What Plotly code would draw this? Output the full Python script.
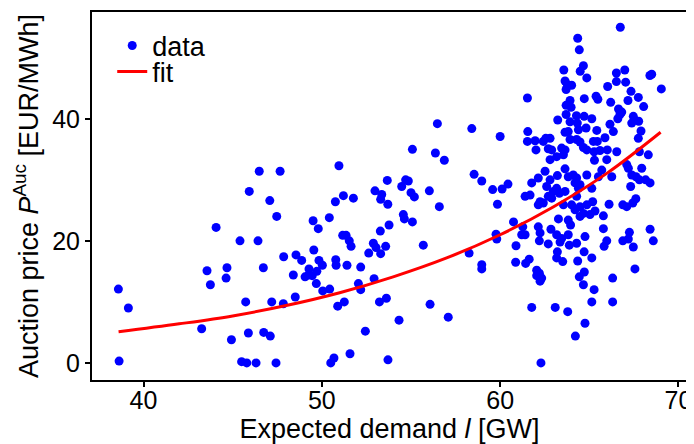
import plotly.graph_objects as go

demand = [
    38.59, 39.15, 38.63, 43.26, 44.93, 45.5, 45.79, 46.31, 47.43, 45.88, 46.74, 47.11, 45.73, 47.19, 47.84, 48.51,
    43.56, 43.75, 44.63, 44.68, 44.07, 45.41, 46.42, 46.72, 45.93, 46.49, 47.66, 47.08, 47.47, 47.86, 48.55, 48.4,
    56.48, 58.41, 50.96, 55.08, 56.37, 56.87, 58.54, 53.67, 52.98, 53.36, 53.3, 53.7, 50.76, 51.21, 51.77, 54.48,
    54.7, 54.85, 55.0, 55.19, 56.03, 56.59, 49.51, 49.8, 50.42, 54.57, 54.63, 55.08, 53.77, 53.28, 51.17, 51.36,
    51.54, 51.64, 52.89, 53.04, 53.58, 52.63, 53.3, 55.69, 49.55, 48.87, 50.78, 50.8, 51.41, 52.18, 49.84, 50.03,
    49.28, 49.06, 49.25, 49.46, 49.72, 49.69, 50.05, 50.44, 52.05, 52.18, 52.93, 50.89, 51.26, 53.23, 53.62, 52.44,
    54.33, 56.07, 57.09, 50.5, 50.68, 51.58, 53.71, 58.26,
    66.74, 64.35, 64.44, 63.57, 64.67, 64.49, 64.86, 63.64, 63.77, 64.01, 63.7, 66.52, 66.99, 66.52, 67.04, 68.4,
    68.5, 69.04, 66.03, 67.34, 61.53, 64.72, 65.38, 65.48, 63.92, 63.7, 63.98, 66.2, 67.17, 67.75, 68.05, 66.64,
    66.82, 66.72, 66.6, 63.7, 64.28, 64.71, 65.14, 63.23, 63.92, 64.33, 64.82, 67.47, 67.38, 67.77, 66.16, 65.42,
    66.35, 67.9, 61.55, 63.64, 63.82, 64.39,
    60.0, 61.53, 61.96, 62.56, 62.8, 62.42, 62.01, 62.7, 62.89, 63.45, 63.64, 63.92, 64.29, 64.48, 64.67, 64.86,
    65.23, 65.45, 65.88, 65.27, 65.6, 66.01, 66.54, 67.75, 67.81, 68.31, 62.8, 63.17, 63.55, 65.29, 65.98, 67.1,
    67.19, 67.94, 63.64, 58.97, 59.58, 60.11, 60.44, 59.85, 60.75, 61.4, 61.68, 61.77, 62.14, 62.52, 62.61, 62.8,
    62.98, 63.21, 63.17, 63.32, 62.89, 62.7, 62.14, 62.42, 62.24, 63.64, 63.82, 64.1, 64.29, 64.48, 64.86, 65.14,
    64.2, 64.39, 65.51, 65.7, 66.26, 67.38, 67.32, 67.62, 67.81, 68.16, 68.41, 64.29, 63.55, 64.01, 64.2, 64.48,
    64.67, 64.86, 65.19, 65.32, 65.04, 64.48, 63.27, 63.82, 63.95, 65.79, 66.11, 66.88, 67.1, 67.44, 67.61, 65.79,
    67.25, 68.41, 68.59, 66.88, 67.19, 67.47, 65.98, 65.83, 64.76, 64.29, 63.82, 63.88, 63.45, 63.36, 63.17, 62.85,
    62.7, 62.14, 62.24, 62.2, 61.27, 61.4, 61.21, 60.89, 59.77, 59.81, 63.21, 64.71,
    58.97, 58.97, 60.87, 61.43, 61.63, 63.17, 63.51, 64.35, 65.14, 62.05, 62.2, 62.05, 62.33, 62.24, 64.72, 64.44,
    64.67, 65.27, 66.31, 67.56, 65.14, 66.31, 61.77, 63.09, 63.79, 64.76, 64.22, 62.29,
]

price = [
    12.1, 9.0, 0.3, 5.6, 3.8, 0.2, 0.0, 0.0, 0.0, 4.9, 5.0, 4.4, 10.0, 10.0, 9.7, 10.8,
    15.1, 12.8, 13.9, 15.6, 22.2, 20.0, 20.0, 15.6, 28.1, 31.4, 31.4, 26.6, 24.0, 17.4, 17.7, 14.4,
    39.2, 38.4, 32.3, 35.0, 34.4, 33.2, 30.9, 29.9, 28.2, 27.6, 26.8, 26.0, 26.4, 27.4, 27.0, 28.9,
    30.0, 29.8, 27.9, 27.2, 28.2, 25.6, 23.3, 22.0, 23.8, 24.3, 23.6, 23.1, 22.6, 21.6, 20.9, 20.9,
    20.0, 19.1, 19.6, 18.9, 19.1, 18.0, 17.9, 19.3, 18.5, 16.8, 16.9, 16.0, 16.0, 15.7, 16.8, 16.0,
    15.4, 14.1, 14.4, 14.3, 15.0, 13.0, 11.8, 12.1, 13.0, 12.0, 13.8, 9.3, 10.0, 10.0, 10.6, 5.2,
    7.0, 9.6, 7.5, 0.0, 0.8, 1.5, 0.5, 18.0,
    55.0, 53.2, 51.3, 48.0, 48.7, 47.8, 46.7, 46.2, 45.6, 45.5, 44.8, 47.5, 48.0, 46.1, 46.0, 47.1,
    47.3, 44.9, 45.3, 44.5, 43.4, 43.3, 43.7, 43.2, 43.0, 42.2, 41.9, 42.7, 43.0, 43.5, 42.0, 41.6,
    41.1, 40.7, 40.0, 40.7, 40.5, 40.4, 40.0, 39.8, 39.5, 39.3, 38.5, 40.4, 39.3, 39.6, 39.1, 38.1,
    37.9, 38.0, 37.9, 37.8, 37.9, 38.2,
    37.1, 36.3, 36.4, 36.8, 36.8, 36.3, 34.9, 35.1, 34.9, 35.2, 34.9, 36.6, 36.6, 36.2, 35.3, 34.9,
    36.3, 36.3, 36.9, 34.6, 34.8, 34.9, 34.6, 36.8, 34.6, 34.1, 33.3, 33.8, 34.1, 33.2, 33.3, 32.5,
    31.9, 31.9, 31.8, 29.8, 28.4, 28.5, 29.3, 26.0, 23.1, 27.3, 27.5, 29.5, 30.3, 31.4, 28.9, 30.0,
    28.1, 30.7, 28.6, 27.8, 27.0, 27.3, 25.9, 26.2, 26.4, 28.1, 30.5, 30.8, 30.3, 29.2, 30.8, 28.6,
    29.5, 28.6, 30.5, 31.6, 30.5, 30.8, 28.9, 30.5, 30.0, 30.0, 29.5, 27.3, 25.9, 25.9, 25.1, 25.6,
    24.5, 25.9, 26.4, 24.9, 24.3, 24.0, 23.6, 23.4, 22.6, 24.1, 26.0, 25.9, 25.6, 26.2, 26.9, 22.0,
    21.4, 21.9, 20.0, 20.0, 20.3, 19.0, 20.0, 19.1, 20.7, 19.6, 21.0, 19.3, 20.4, 19.8, 21.0, 21.9,
    19.5, 22.3, 21.3, 20.0, 22.3, 21.0, 21.0, 19.2, 21.1, 20.3, 18.2, 18.2,
    16.1, 15.4, 16.5, 16.3, 17.0, 17.2, 16.6, 16.7, 17.2, 15.2, 14.7, 14.3, 13.9, 13.4, 14.9, 14.1,
    12.8, 12.0, 13.9, 15.4, 10.0, 10.0, 9.1, 9.1, 8.4, 6.5, 4.4, 0.0,
]

fit_demand = [38.6, 42.0, 45.0, 48.0, 51.0, 54.0, 57.0, 60.0, 63.0, 66.0, 69.0]
fit_price = [5.1, 6.4, 7.7, 9.4, 11.5, 14.1, 17.2, 21.0, 25.6, 31.1, 37.8]

x_ticks = [40, 50, 60, 70]
y_ticks = [0, 20, 40]

FONT = "Liberation Sans, Arial, sans-serif"
FS_TICK = 25
FS = 27

fig = go.Figure()
fig.add_trace(go.Scatter(
    x=demand, y=price, mode="markers", name="data", legend="legend",
    marker=dict(color="rgb(0,0,255)", size=9, line=dict(width=0)),
))
fig.add_trace(go.Scatter(
    x=fit_demand, y=fit_price, mode="lines", name="fit", legend="legend2",
    line=dict(color="rgb(255,0,0)", width=3, shape="spline"),
))

axis_common = dict(
    showline=True, mirror=True, linecolor="black", linewidth=2,
    ticks="outside", ticklen=5, tickwidth=1.5, tickcolor="black",
    showgrid=False, zeroline=False, automargin=False,
    tickfont=dict(family=FONT, size=FS_TICK, color="black"),
)

legend_common = dict(
    x=0.034, xanchor="left", yanchor="middle",
    bgcolor="rgba(0,0,0,0)", borderwidth=0,
    font=dict(family=FONT, size=FS, color="black"),
    itemwidth=30,
)

# the page body adds an 8 px margin, so the figure is 8 px smaller
fig.update_layout(
    width=686, height=436,
    margin=dict(l=84, r=7, t=4, b=64),
    paper_bgcolor="white", plot_bgcolor="white",
    font=dict(family=FONT, size=FS, color="black"),
    showlegend=True,
    legend=dict(y=0.9076, **legend_common),
    legend2=dict(y=0.837, **legend_common),
    xaxis=dict(
        range=[37.11, 70.48], tickvals=x_ticks, ticklabelstandoff=-8,
        title=dict(text="Expected demand <i>l</i> [GW]", font=dict(family=FONT, size=FS), standoff=2),
        **axis_common,
    ),
    yaxis=dict(
        range=[-2.8, 57.5], tickvals=y_ticks,
        title=dict(text="Auction price <i>P</i><sup>Auc</sup> [EUR/MWh]", font=dict(family=FONT, size=FS), standoff=6),
        **axis_common,
    ),
)

fig.write_html("out.html")
